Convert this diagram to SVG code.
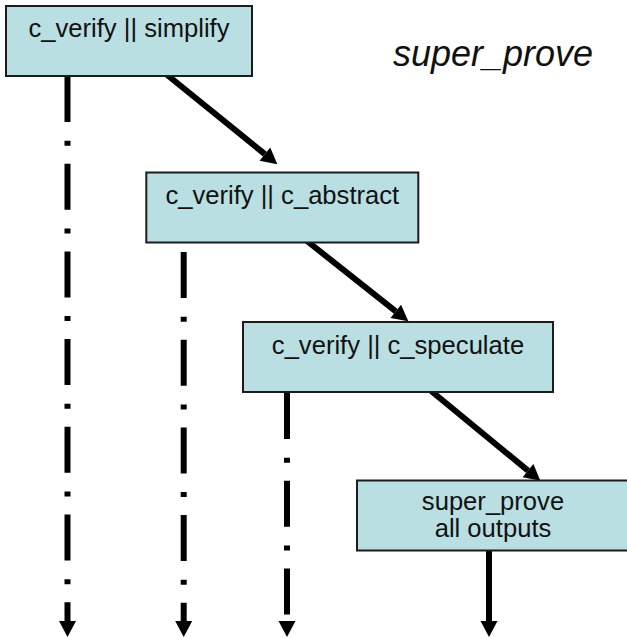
<svg xmlns="http://www.w3.org/2000/svg" width="627" height="638" viewBox="0 0 627 638">
  <style>
    .box { fill: #b9dfe2; stroke: #1c1c1c; stroke-width: 2; }
    .lbl { font-family: "Liberation Sans", Arial, sans-serif; font-size: 25.6px; fill: #111; text-anchor: middle; }
    .title { font-family: "Liberation Sans", Arial, sans-serif; font-size: 36px; font-style: italic; fill: #111; text-anchor: middle; }
    .conn { stroke: #000; stroke-width: 6; fill: none; stroke-linecap: butt; marker-end: url(#head); }
    .dashdot { stroke-dasharray: 46 18.7 5 18; }
  </style>
  <defs>
    <marker id="head" markerUnits="userSpaceOnUse" markerWidth="17" markerHeight="18" refX="0" refY="8.5" orient="auto" overflow="visible">
      <path d="M0,0 L16,8.5 L0,17 Z" fill="#000"/>
    </marker>
  </defs>

  <!-- connectors -->
  <g id="connectors">
    <line class="conn" x1="166" y1="74" x2="264.9" y2="154.1"/>
    <line class="conn" x1="307" y1="241" x2="395.8" y2="311.3"/>
    <line class="conn" x1="430" y1="390" x2="528" y2="470.6"/>
    <line class="conn dashdot" x1="67.5" y1="76" x2="67.5" y2="621"/>
    <line class="conn dashdot" x1="183.7" y1="252" x2="183.7" y2="621"/>
    <line class="conn dashdot" x1="287" y1="393" x2="287" y2="621"/>
    <line class="conn" x1="489" y1="550" x2="489" y2="621"/>
  </g>

  <g id="n-simplify">
    <rect class="box" x="6" y="6" width="246" height="70"/>
    <text class="lbl" x="129" y="37">c_verify || simplify</text>
  </g>
  <g id="n-abstract">
    <rect class="box" x="146.3" y="172.5" width="272" height="70"/>
    <text class="lbl" x="282.3" y="204">c_verify || c_abstract</text>
  </g>
  <g id="n-speculate">
    <rect class="box" x="243" y="322" width="310" height="70"/>
    <text class="lbl" x="398" y="354">c_verify || c_speculate</text>
  </g>
  <g id="n-superprove">
    <rect class="box" x="357" y="480.5" width="272" height="70"/>
    <text class="lbl" x="493" y="510">super_prove</text>
    <text class="lbl" x="493" y="536.5">all outputs</text>
  </g>

  <g id="title">
    <text class="title" x="493" y="66">super_prove</text>
  </g>
</svg>
